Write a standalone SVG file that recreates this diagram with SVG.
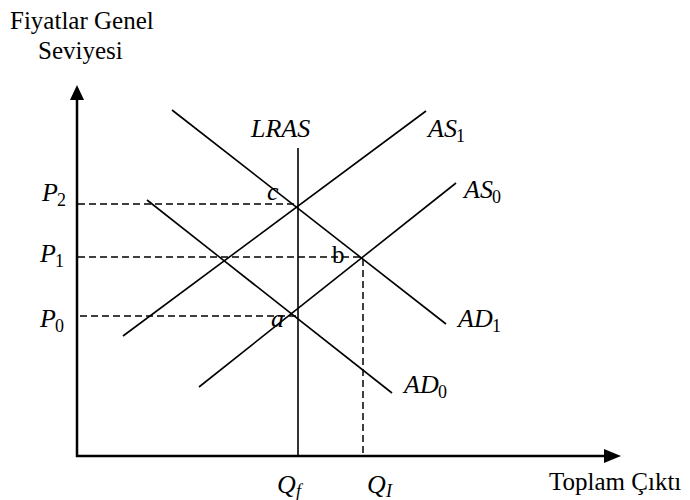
<svg xmlns="http://www.w3.org/2000/svg" width="690" height="500" viewBox="0 0 690 500">
<style>
.t{font-family:"Liberation Serif","Times New Roman",serif;font-size:25px;fill:#000}
.m{font-family:"Liberation Serif","Times New Roman",serif;font-style:italic;font-size:26px;fill:#000}
.s{font-family:"Liberation Serif","Times New Roman",serif;font-size:18px;fill:#000}
.si{font-family:"Liberation Serif","Times New Roman",serif;font-style:italic;font-size:18px;fill:#000}
.ax{stroke:#000;stroke-width:2.5;fill:none}
.ln{stroke:#000;stroke-width:1.6;fill:none}
.da{stroke:#000;stroke-width:1.5;fill:none;stroke-dasharray:7 4}
</style>
<rect width="690" height="500" fill="#fff"/>
<g id="axes">
<line class="ax" x1="77" y1="98" x2="77" y2="457"/>
<polygon points="77,85 70,100 84,100" fill="#000"/>
<line class="ax" x1="76" y1="456" x2="606" y2="456"/>
<polygon points="621,456 604,449 604,463" fill="#000"/>
</g>
<g id="labels-axes">
<text class="t" x="10" y="29">Fiyatlar Genel</text>
<text class="t" x="38" y="59">Seviyesi</text>
<text class="t" x="549" y="490" font-size="26">Toplam Çıktı</text>
</g>
<g id="connectors">
<line class="da" x1="78" y1="204" x2="298" y2="204"/>
<line class="da" x1="78" y1="257" x2="361" y2="257"/>
<line class="da" x1="80" y1="316" x2="298" y2="316"/>
<line class="da" x1="363" y1="259" x2="363" y2="456"/>
</g>
<g id="LRAS">
<line class="ln" x1="298" y1="148" x2="298" y2="456"/>
<text class="m" x="251" y="137">LRAS</text>
</g>
<g id="AS1">
<line class="ln" x1="123" y1="336" x2="426" y2="111"/>
<text class="m" x="428" y="137">AS</text><text class="s" x="456" y="142">1</text>
</g>
<g id="AS0">
<line class="ln" x1="199" y1="387" x2="456" y2="183"/>
<text class="m" x="464" y="198">AS</text><text class="s" x="492" y="203">0</text>
</g>
<g id="AD1">
<line class="ln" x1="172" y1="110" x2="446" y2="324"/>
<text class="m" x="458" y="327">AD</text><text class="s" x="492" y="332">1</text>
</g>
<g id="AD0">
<line class="ln" x1="147" y1="200" x2="392" y2="393"/>
<text class="m" x="404" y="393">AD</text><text class="s" x="438" y="398">0</text>
</g>
<g id="price-labels">
<text class="m" x="42" y="201">P</text><text class="s" x="57" y="206">2</text>
<text class="m" x="40" y="262">P</text><text class="s" x="55" y="267">1</text>
<text class="m" x="40" y="327">P</text><text class="s" x="55" y="332">0</text>
</g>
<g id="quantity-labels">
<text class="m" x="277" y="493">Q</text><text class="si" x="296" y="497">f</text>
<text class="m" x="367" y="493">Q</text><text class="si" x="386" y="497">I</text>
</g>
<g id="points">
<text class="m" x="267" y="200">c</text>
<text class="t" x="332" y="263">b</text>
<text class="m" x="271" y="327">a</text>
</g>
</svg>
